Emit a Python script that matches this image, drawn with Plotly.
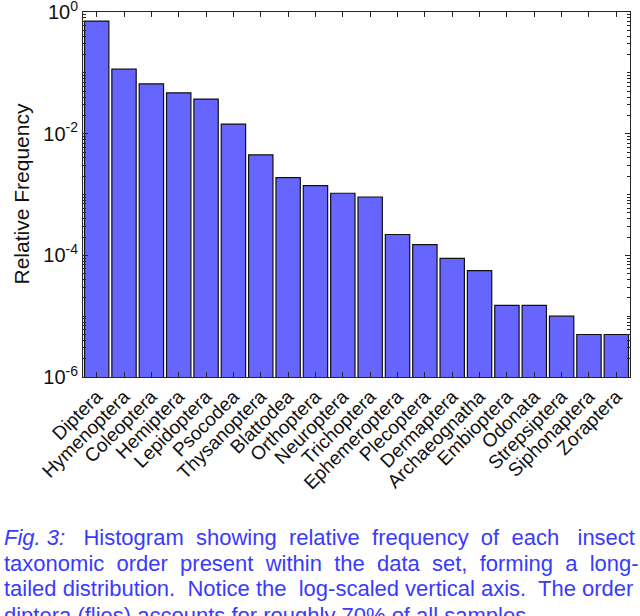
import plotly.graph_objects as go

orders = ["Diptera", "Hymenoptera", "Coleoptera", "Hemiptera", "Lepidoptera",
          "Psocodea", "Thysanoptera", "Blattodea", "Orthoptera", "Neuroptera",
          "Trichoptera", "Ephemeroptera", "Plecoptera", "Dermaptera",
          "Archaeognatha", "Embioptera", "Odonata", "Strepsiptera",
          "Siphonaptera", "Zoraptera"]
rel_freq = [0.71, 0.115, 0.066, 0.047, 0.037,
            0.0144, 0.0045, 0.0019, 0.0014, 0.00105,
            0.00091, 2.2e-4, 1.5e-4, 8.9e-5,
            5.6e-5, 1.5e-5, 1.5e-5, 1.0e-5,
            5e-6, 5e-6]

ytick_vals = [1e-6, 1e-4, 1e-2, 1]
ytick_text = ["10<sup>-6</sup>", "10<sup>-4</sup>", "10<sup>-2</sup>", "10<sup>0</sup>"]

caption = [
    "<i>Fig. 3:</i>   Histogram  showing  relative  frequency  of  each   insect",
    "taxonomic  order  present  within  the  data  set,  forming  a  long-",
    "tailed distribution.  Notice the  log-scaled vertical axis.  The order",
    "diptera (flies) accounts for roughly 70% of all samples.",
]

font = "Liberation Sans, Arial, sans-serif"
axis_col = "#262626"

W, H = 640, 616
L, R, T, B = 83, 10, 12, 239
pw, ph = W - L - R, H - T - B

fig = go.Figure(go.Bar(
    x=orders, y=rel_freq,
    marker=dict(color="#6666ff", line=dict(color="#111111", width=1.2)),
))

minor_vals = [m * 10 ** e for e in range(-6, 0) for m in range(2, 10)] + \
             [10 ** e for e in (-5, -3, -1)]

fig.update_layout(
    width=W, height=H,
    margin=dict(l=L, r=R, t=T, b=B),
    paper_bgcolor="white", plot_bgcolor="white",
    bargap=0.11,
    showlegend=False,
    font=dict(family=font, size=15, color=axis_col),
)
fig.update_xaxes(
    showline=True, linecolor=axis_col, linewidth=1, mirror="ticks",
    ticks="inside", ticklen=5, tickcolor=axis_col,
    tickangle=-45, tickfont=dict(size=19, color="#111111"),
    showgrid=False, automargin=False, ticklabeloverflow="allow",
)
fig.update_yaxes(
    type="log", range=[-6, 0.0005],
    showline=True, linecolor=axis_col, linewidth=1, mirror="ticks",
    ticks="inside", ticklen=5, tickcolor=axis_col,
    tickvals=ytick_vals, ticktext=ytick_text,
    tickfont=dict(size=20, color="#111111"),
    minor=dict(tickvals=minor_vals, ticks="inside", ticklen=3, tickcolor=axis_col),
    showgrid=False, automargin=False, ticklabeloverflow="allow",
)

fig.add_annotation(
    text="Relative Frequency", textangle=-90,
    xref="paper", yref="paper", x=(21 - L) / pw, y=0.5,
    xanchor="center", yanchor="middle", showarrow=False,
    font=dict(family=font, size=21, color="#111111"),
)

line_y = [537, 563, 589, 615]
for txt, yy in zip(caption, line_y):
    fig.add_annotation(
        text=txt, xref="paper", yref="paper",
        x=(2 - L) / pw, y=(H - B - yy) / ph,
        xanchor="left", yanchor="middle", showarrow=False,
        font=dict(family=font, size=22, color="#3a3aff"),
    )

# drop the browser's default 8px body margin so the figure sits at the window edge
fig.write_html("out.html", config={"displayModeBar": False},
               post_script="document.body.style.margin='0px';")
